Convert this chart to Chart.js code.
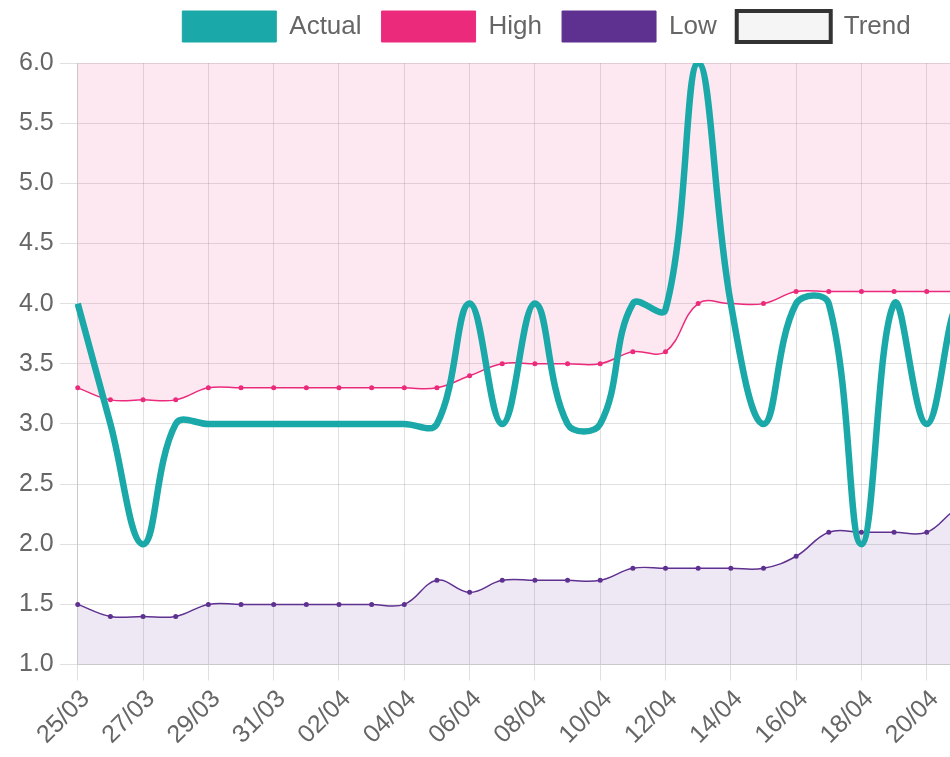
<!DOCTYPE html>
<html>
<head>
<meta charset="utf-8">
<script src="https://cdn.jsdelivr.net/npm/chart.js@4.4.1/dist/chart.umd.min.js"></script>
<style>
  html, body { margin: 0; padding: 0; overflow: hidden; background: #fff; }
  #wrap { width: 1094px; height: 757px; }
</style>
</head>
<body>
<div id="wrap"><canvas id="chart" width="1094" height="757"></canvas></div>
<script>
const days = ['25/03', '26/03', '27/03', '28/03', '29/03', '30/03', '31/03', '01/04',
  '02/04', '03/04', '04/04', '05/04', '06/04', '07/04', '08/04', '09/04',
  '10/04', '11/04', '12/04', '13/04', '14/04', '15/04', '16/04', '17/04',
  '18/04', '19/04', '20/04', '21/04', '22/04', '23/04', '24/04', '25/04'];

const actual = [4.0, 3.0, 2.0, 3.0, 3.0, 3.0, 3.0, 3.0, 3.0, 3.0, 3.0, 3.0, 4.0, 3.0, 4.0, 3.0,
  3.0, 4.0, 3.95, 6.0, 4.0, 3.0, 4.0, 4.0, 2.0, 4.0, 3.0, 4.0, 3.0, 4.0, 3.0, 4.0];

const high = [3.3, 3.2, 3.2, 3.2, 3.3, 3.3, 3.3, 3.3, 3.3, 3.3, 3.3, 3.3, 3.4, 3.5, 3.5, 3.5,
  3.5, 3.6, 3.6, 4.0, 4.0, 4.0, 4.1, 4.1, 4.1, 4.1, 4.1, 4.1, 4.1, 4.1, 4.1, 4.1];

const low = [1.5, 1.4, 1.4, 1.4, 1.5, 1.5, 1.5, 1.5, 1.5, 1.5, 1.5, 1.7, 1.6, 1.7, 1.7, 1.7,
  1.7, 1.8, 1.8, 1.8, 1.8, 1.8, 1.9, 2.1, 2.1, 2.1, 2.1, 2.3, 2.3, 2.3, 2.3, 2.3];

const trend = [];

const teal = '#1aa8a8';
const pink = '#ec2a7c';
const purple = '#5e3191';
const fontFamily = "'Liberation Sans', Arial, sans-serif";

// legend needs a bit more room underneath
const legendSpace = {
  id: 'legendSpace',
  beforeInit(chart) {
    let fit = chart.legend.fit;
    chart.legend.fit = function() {
      fit.bind(chart.legend)();
      this.height += 11;
    };
  }
};

let ctx = document.getElementById('chart');
let config = {
  type: 'line',
  data: {
    labels: days,
    datasets: [
      {
        label: 'Actual',
        data: actual,
        borderColor: teal,
        backgroundColor: teal,
        borderWidth: 6.5,
        pointRadius: 0,
        tension: 0.4,
        fill: false
      },
      {
        label: 'High',
        data: high,
        borderColor: pink,
        backgroundColor: 'rgba(236, 42, 124, 0.11)',
        pointBackgroundColor: pink,
        borderWidth: 1.5,
        pointRadius: 2.5,
        pointBorderWidth: 0,
        tension: 0.4,
        fill: 'end'
      },
      {
        label: 'Low',
        data: low,
        borderColor: purple,
        backgroundColor: 'rgba(94, 49, 145, 0.11)',
        pointBackgroundColor: purple,
        borderWidth: 1.5,
        pointRadius: 2.5,
        pointBorderWidth: 0,
        tension: 0.4,
        fill: 'start'
      },
      {
        label: 'Trend',
        data: trend,
        borderColor: '#333',
        backgroundColor: '#fff',
        borderWidth: 4,
        fill: false
      }
    ]
  },
  options: {
    responsive: false,
    animation: false,
    layout: { padding: { left: 3, right: 4, top: -9, bottom: 3 } },
    plugins: {
      legend: {
        position: 'top',
        labels: {
          color: '#666',
          font: { family: fontFamily, size: 26 },
          boxWidth: 94,
          boxHeight: 31,
          padding: 20,
          generateLabels: function(chart) {
            let items = Chart.defaults.plugins.legend.labels.generateLabels(chart);
            items.forEach(function(it, i) {
              let ds = chart.data.datasets[i];
              it.fillStyle = ds.label == 'Trend' ? '#f5f5f5' : ds.borderColor;
              it.strokeStyle = ds.borderColor;
              it.lineWidth = ds.label == 'Trend' ? 4 : 1;
            });
            return items;
          }
        }
      },
      tooltip: { enabled: false }
    },
    scales: {
      x: {
        grid: { color: 'rgba(0,0,0,0.12)', tickLength: 16 },
        ticks: {
          color: '#666',
          font: { family: fontFamily, size: 25 },
          minRotation: 45,
          maxRotation: 45,
          labelOffset: 8,
          padding: 4,
          autoSkip: true,
          maxTicksLimit: 16
        }
      },
      y: {
        min: 1,
        max: 6,
        afterFit: function(axis) { axis.width += 10; },
        grid: { color: 'rgba(0,0,0,0.12)', tickLength: 18 },
        ticks: {
          color: '#666',
          stepSize: 0.5,
          padding: 6,
          font: { family: fontFamily, size: 25 },
          callback: function(v) { return v.toFixed(1); }
        }
      }
    }
  },
  plugins: [legendSpace]
};
let lineChart = new Chart(ctx, config);
</script>
</body>
</html>
